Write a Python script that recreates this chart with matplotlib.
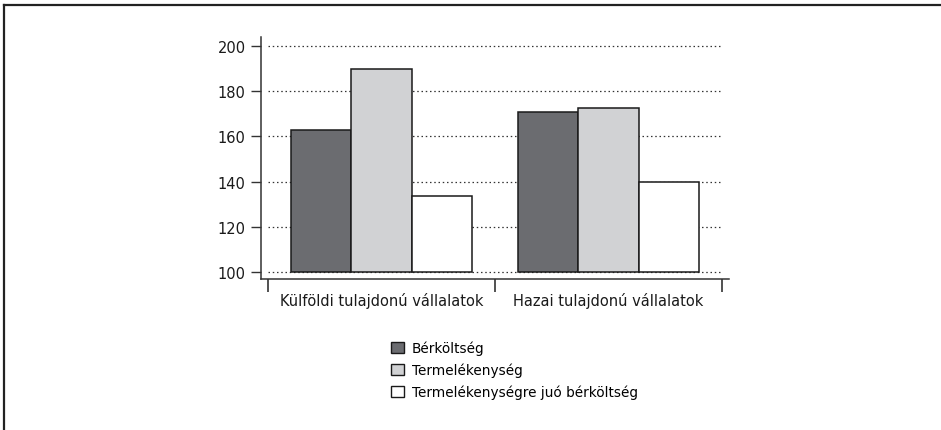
import numpy as np
import matplotlib.pyplot as plt
from matplotlib.lines import Line2D
from matplotlib.patches import Patch

# Data.
categories = ["Külföldi tulajdonú vállalatok", "Hazai tulajdonú vállalatok"]
series_names = ["Bérköltség", "Termelékenység", "Termelékenységre juó bérköltség"]
berkoltseg = [163, 171]
termelekenyseg = [190, 172.5]
juo_berkoltseg = [133.5, 140]
y_ticks = [100, 120, 140, 160, 180, 200]

colors = ["#6b6c70", "#d1d2d4", "#ffffff"]
edge = "#1a1a1a"

plt.rcParams['font.family'] = ['DejaVu Sans']

fig = plt.figure(figsize=(9.41, 4.31), dpi=100)
ax = fig.add_axes([261/941, 1 - 280/431, (729 - 261)/941, (280 - 38)/431])

x = np.arange(len(categories))
width = 0.8/3
base = 100
allSeries = [berkoltseg, termelekenyseg, juo_berkoltseg]
for i, vals in enumerate(allSeries):
    heights = [v - base for v in vals]
    ax.bar(x + (i - 1)*width, heights, width, bottom=base, color=colors[i],
           edgecolor=edge, linewidth=1.1, zorder=3)

# Dotted gridlines only over the category span.
ax.hlines(y_ticks, -0.5, 1.5, colors="#333333", linestyles=(0, (1.2, 2.2)),
          linewidth=0.9, zorder=1)

ax.set_xlim(-0.531, 1.531)
ax.set_ylim(96.9, 204)
ax.set_yticks(y_ticks)
ax.set_xticks([-0.5, 0.5, 1.5])
ax.set_xticklabels([])
ax.tick_params(axis='y', direction='out', length=7, width=1, color="#333333",
               labelsize=10.5, pad=4, labelcolor="#1a1a1a")
ax.tick_params(axis='x', direction='out', length=9, width=1.2, color="#333333")
for s in ["top", "right"]:
    ax.spines[s].set_visible(False)
for s in ["left", "bottom"]:
    ax.spines[s].set_color("#333333")
    ax.spines[s].set_linewidth(1.1)

# Category labels sit under the group centres.
for xi, name in zip(x, categories):
    ax.annotate(name, xy=(xi, 0), xycoords=('data', 'axes fraction'),
                xytext=(0, -21), textcoords='offset pixels',
                ha="center", va="center", fontsize=10.5, color="#1a1a1a")

handles = [Patch(facecolor=c, edgecolor=edge, linewidth=1.0) for c in colors]
fig.legend(handles, series_names, loc="upper left",
           bbox_to_anchor=(391/941, 1 - 342/431), frameon=False,
           fontsize=9.8, handlelength=0.95, handleheight=0.9,
           handletextpad=0.6, labelspacing=0.55, borderpad=0, borderaxespad=0)

# Partial frame (top and left edges).
fig.add_artist(Line2D([4/941, 1], [1 - 6/431, 1 - 6/431], color="#222222",
                      linewidth=1.6, transform=fig.transFigure))
fig.add_artist(Line2D([4/941, 4/941], [0, 1 - 6/431], color="#222222",
                      linewidth=1.6, transform=fig.transFigure))

fig.savefig("out.png", dpi=100)
